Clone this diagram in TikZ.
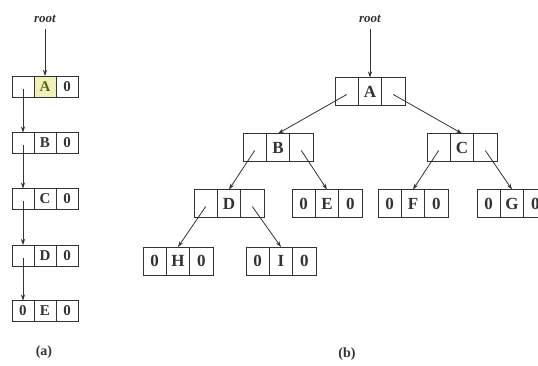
\documentclass[tikz,border=0pt]{standalone}
\usepackage{fontspec}
\setmainfont{Liberation Serif}
\usetikzlibrary{arrows.meta}
\definecolor{ink}{gray}{0.2}
\definecolor{hl}{RGB}{240,240,185}
\definecolor{hlt}{RGB}{85,105,20}
\tikzset{
  cellbase/.style={draw=ink, line width=0.8pt, inner sep=0pt, outer sep=0pt, text=ink},
  lcell/.style={cellbase, minimum width=22pt, minimum height=21pt, font=\fontsize{15}{15}\selectfont\bfseries},
  tcell/.style={cellbase, minimum width=23.3pt, minimum height=28pt, font=\fontsize{17}{17}\selectfont\bfseries},
  link/.style={draw=ink, line width=0.8pt, -{Stealth[length=6pt,width=4pt]}},
  caption/.style={font=\fontsize{14}{14}\selectfont\bfseries, text=ink},
  rootlbl/.style={font=\fontsize{13}{13}\selectfont\bfseries\itshape, text=ink, inner sep=6pt},
}
\newcommand{\tribox}[7]{%
  \node[#1] (#2) at (#3,#4) {#6};
  \node[#1, anchor=east] (#2l) at (#2.west) {#5};
  \node[#1, anchor=west] (#2r) at (#2.east) {#7};
}
\begin{document}
\begin{tikzpicture}[x=1pt,y=-1pt]
\useasboundingbox (0,0) rectangle (538,365);
\fill[white] (0,0) rectangle (538,365);

% ---- (a) list ----
\node[rootlbl] (lroot) at (45,19) {root};
\node[lcell, fill=hl, text=hlt] (LA) at (45,86.5) {A};
\node[lcell, anchor=east] (LAl) at (LA.west) {};
\node[lcell, anchor=west] (LAr) at (LA.east) {0};
\tribox{lcell}{LB}{45}{143}{}{B}{0}
\tribox{lcell}{LC}{45}{199}{}{C}{0}
\tribox{lcell}{LD}{45}{255.5}{}{D}{0}
\tribox{lcell}{LE}{45}{311}{0}{E}{0}

\draw[link] (lroot.south) -- (LA.north);
\draw[link] ([yshift=-2pt]LAl.center) -- (LBl.north);
\draw[link] ([yshift=-2pt]LBl.center) -- (LCl.north);
\draw[link] ([yshift=-2pt]LCl.center) -- (LDl.north);
\draw[link] ([yshift=-2pt]LDl.center) -- (LEl.north);

\node[caption] (capa) at (44,352) {(a)};

% ---- (b) tree ----
\node[rootlbl] (troot) at (370,19) {root};
\tribox{tcell}{TA}{370}{91.5}{}{A}{}
\tribox{tcell}{TB}{278}{147.5}{}{B}{}
\tribox{tcell}{TC}{462}{147.5}{}{C}{}
\tribox{tcell}{TD}{229}{203.5}{}{D}{}
\tribox{tcell}{TE}{327}{203.5}{0}{E}{0}
\tribox{tcell}{TF}{413}{203.5}{0}{F}{0}
\tribox{tcell}{TG}{512}{203.5}{0}{G}{0}
\tribox{tcell}{TH}{178}{261}{0}{H}{0}
\tribox{tcell}{TI}{281}{261}{0}{I}{0}

\draw[link] (troot.south) -- (TA.north);
\draw[link] ([yshift=-3pt]TAl.center) -- (TB.north);
\draw[link] ([yshift=-3pt]TAr.center) -- (TC.north);
\draw[link] ([yshift=-3pt]TBl.center) -- (TD.north);
\draw[link] ([yshift=-3pt]TBr.center) -- (TE.north);
\draw[link] ([yshift=-3pt]TCl.center) -- (TF.north);
\draw[link] ([yshift=-3pt]TCr.center) -- (TG.north);
\draw[link] ([yshift=-3pt]TDl.center) -- (TH.north);
\draw[link] ([yshift=-3pt]TDr.center) -- (TI.north);

\node[caption] (capb) at (347,354) {(b)};
\end{tikzpicture}
\end{document}
